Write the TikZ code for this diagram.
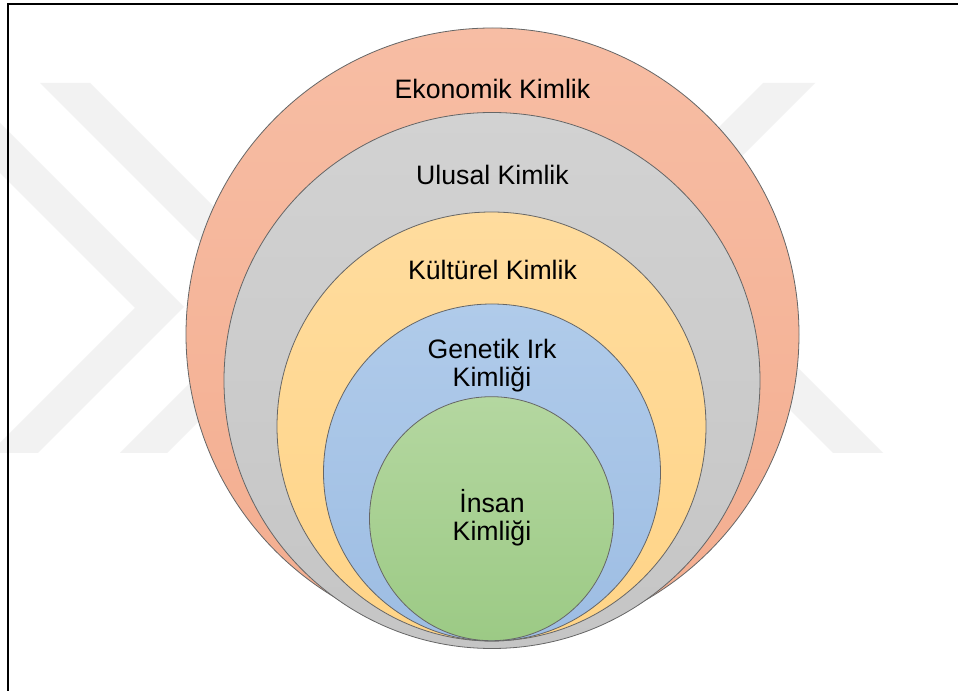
\documentclass[tikz,border=0pt]{standalone}
\usepackage{fontspec}
\setmainfont{Liberation Sans}
\begin{document}
\begin{tikzpicture}[x=0.75pt,y=-0.75pt,
  ring/.style={circle,inner sep=0pt,draw=black!60,line width=0.6pt},
  lbl/.style={anchor=base,align=center,font=\fontsize{20}{21}\selectfont,text=black},
  wmark/.style={fill=black!5,draw=none}]
\definecolor{orT}{HTML}{F7BDA4}\definecolor{orB}{HTML}{F3AD8F}
\definecolor{grT}{HTML}{D2D2D2}\definecolor{grB}{HTML}{C5C5C5}
\definecolor{yeT}{HTML}{FFDC9E}\definecolor{yeB}{HTML}{FFD487}
\definecolor{blT}{HTML}{B0CBEA}\definecolor{blB}{HTML}{9DBDE3}
\definecolor{gnT}{HTML}{B4D7A0}\definecolor{gnB}{HTML}{9CCA85}
\useasboundingbox (0,0) rectangle (958,691);
\fill[white] (0,0) rectangle (958,691);
% watermark
\begin{scope}
\clip (0,0) rectangle (958,691);
\fill[wmark] (40,83) -- (90,83) -- (314,307) -- (167,453) -- (120,453) -- (265,308) -- cycle;
\fill[wmark] (-90,83) -- (-40,83) -- (184,307) -- (38,453) -- (-10,453) -- (135,308) -- cycle;
\fill[wmark] (763,83) -- (815,83) -- (664,234) -- (883,453) -- (833,453) -- (613,233) -- cycle;
\end{scope}
% frame
\draw[line width=1.6pt] (958,3.8) -- (8,3.8) -- (8,691);
% rings
\node[ring,minimum size=459.75pt,top color=orT,bottom color=orB] (eko) at (492.5,334.5) {};
\node[ring,minimum size=402pt,top color=grT,bottom color=grB] (ulu) at (492,380.5) {};
\node[ring,minimum size=321.75pt,top color=yeT,bottom color=yeB] (kul) at (491.5,426.5) {};
\node[ring,minimum size=252.75pt,top color=blT,bottom color=blB] (gen) at (492,472.5) {};
\node[ring,minimum size=183pt,top color=gnT,bottom color=gnB] (ins) at (491.5,518.7) {};
% labels
\node[lbl] (tEko) at (492.5,98.5) {Ekonomik Kimlik};
\node[lbl] (tUlu) at (492.5,184.5) {Ulusal Kimlik};
\node[lbl] (tKul) at (492.5,279.5) {Kültürel Kimlik};
\node[lbl] (tGen) at (492,387) {Genetik Irk\\Kimliği};
\node[lbl] (tIns) at (492,541) {İnsan\\Kimliği};
\end{tikzpicture}
\end{document}
